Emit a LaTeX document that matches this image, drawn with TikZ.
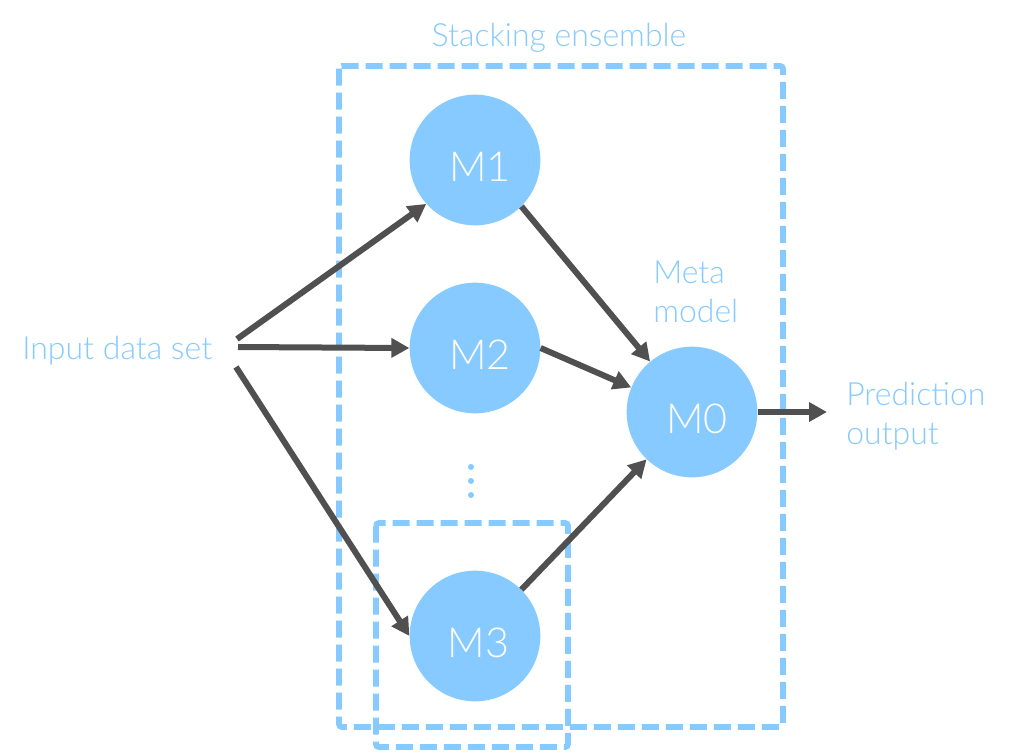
\documentclass[tikz,border=0pt]{standalone}
\usepackage{fontspec}
\setmainfont{Lato Light}
\usetikzlibrary{arrows.meta}
\definecolor{skyb}{RGB}{134,202,255}
\definecolor{arrowgray}{RGB}{80,80,80}
\tikzset{
  model/.style={circle,fill=skyb,minimum size=98pt,inner sep=0pt,text=white,
    font=\fontsize{31}{31}\selectfont,text height=32pt,text depth=0pt},
  lbl/.style={text=skyb,inner sep=0pt,font=\fontsize{24}{29.25}\selectfont},
  dbox/.style={draw=skyb,line width=4.2pt,dash pattern=on 12.75pt off 5.25pt,rounded corners=2pt},
  conn/.style={draw=arrowgray,line width=4.5pt,-{Triangle[length=13.5pt,width=14pt]}},
}
\begin{document}
\begin{tikzpicture}[x=0.75pt,y=-0.75pt]
\useasboundingbox (0,0) rectangle (1013,751);
% dashed boxes
\draw[dbox] (339,66) rectangle (783,727);
\draw[dbox] (376,523) rectangle (568,747);
% labels
\node[lbl,anchor=base] (title) at (559,46) {Stacking ensemble};
\node[lbl,anchor=base west] (input) at (22,359) {Input data set};
\node[lbl,anchor=base west,align=left] (meta) at (653,322) {Meta\\model};
\node[lbl,anchor=base west,align=left] (pred) at (846,444) {Prediction\\output};
% models
\node[model] (m1) at (475,160) {\hspace{7.5pt}M1};
\node[model] (m2) at (475,348) {\hspace{7.5pt}M2};
\node[model] (m3) at (475,636) {\hspace{5pt}M3};
\node[model] (m0) at (692,412) {\hspace{7.5pt}M0};
% dots
\foreach \yy in {467,481,495} \fill[skyb] (471,\yy) circle (3);
% connector ends
\coordinate (i1) at (237,339);
\coordinate (i2) at (238,347);
\coordinate (i3) at (236,367);
\coordinate (out) at (827,412);
% connectors
\draw[conn] (i1) -- (m1.222);
\draw[conn] (i2) -- (m2.west);
\draw[conn] (i3) -- (m3.west);
\draw[conn] (m1.315) -- (m0);
\draw[conn] (m2.east) -- (m0.158);
\draw[conn] (m3.45) -- (m0);
\draw[conn] (m0.east) -- (out);
\end{tikzpicture}
\end{document}
